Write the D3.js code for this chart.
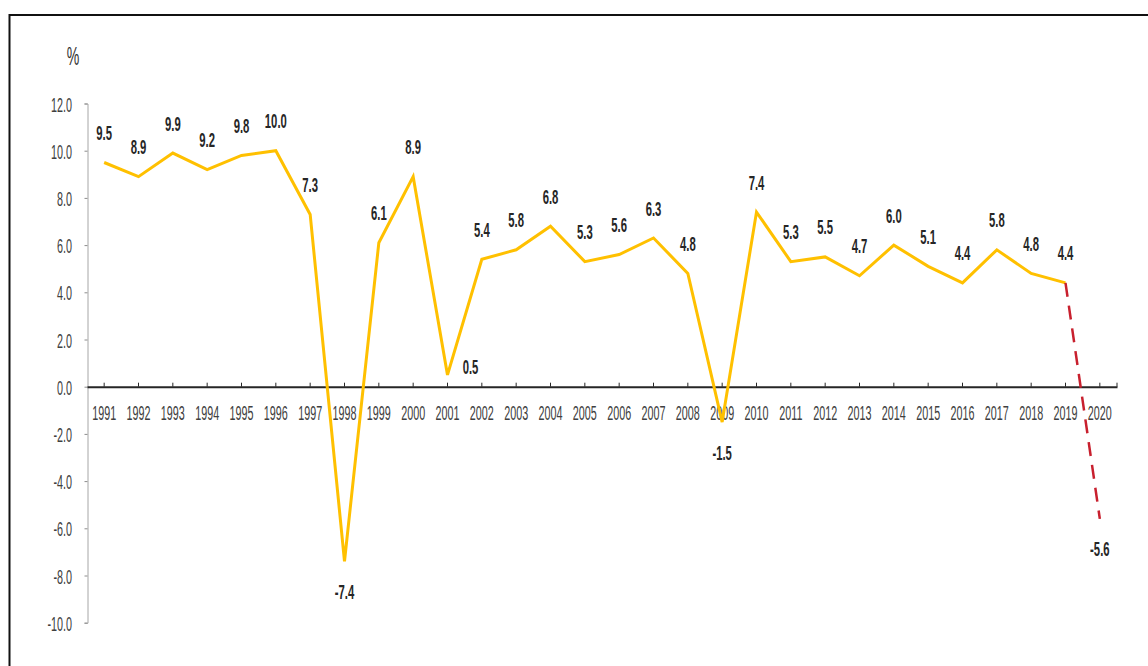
<!DOCTYPE html>
<html>
<head>
<meta charset="utf-8">
<script src="https://cdn.jsdelivr.net/npm/d3@7"></script>
<style>
  html, body { margin: 0; padding: 0; background: #fff; }
</style>
</head>
<body>
<div id="chart"></div>
<script>
// data
const years = ['1991', '1992', '1993', '1994', '1995', '1996', '1997', '1998', '1999', '2000',
  '2001', '2002', '2003', '2004', '2005', '2006', '2007', '2008', '2009', '2010',
  '2011', '2012', '2013', '2014', '2015', '2016', '2017', '2018', '2019', '2020'];
const growth = [9.5, 8.9, 9.9, 9.2, 9.8, 10.0, 7.3, -7.4, 6.1, 8.9,
  0.5, 5.4, 5.8, 6.8, 5.3, 5.6, 6.3, 4.8, -1.5, 7.4,
  5.3, 5.5, 4.7, 6.0, 5.1, 4.4, 5.8, 4.8, 4.4, -5.6];
const lastActual = '2019';
const yTicks = [-10, -8, -6, -4, -2, 0, 2, 4, 6, 8, 10, 12];
const unitLabel = '%';

const width = 1148;
const height = 666;
const FONT = "'Liberation Sans Narrow', 'Arial Narrow', 'Liberation Sans', Arial, sans-serif";

const svg = d3.select('#chart').append('svg')
  .attr('width', width)
  .attr('height', height);

// squeeze factor so the narrow text matches the picture
function measure(str, weight) {
  const t = svg.append('text')
    .attr('font-family', FONT)
    .attr('font-size', 21)
    .attr('font-weight', weight)
    .text(str);
  const w = t.node().getComputedTextLength();
  t.remove();
  return w;
}
const sx = 24 / measure('1991', 'normal');
const sxBold = 22 / measure('10.0', 'bold');

// frame
svg.append('rect')
  .attr('x', 9.5)
  .attr('y', 15)
  .attr('width', 1300)
  .attr('height', 800)
  .attr('fill', 'none')
  .attr('stroke', '#111')
  .attr('stroke-width', 2);

const x = d3.scaleBand().domain(years).range([87, 1117]);
const cx = d => x(d) + x.bandwidth() / 2;
const y = d3.scaleLinear().domain([-10, 12]).range([622.7, 103.5]);

const rows = years.map((yr, i) => ({ year: yr, value: growth[i] }));
const split = years.indexOf(lastActual);
const actual = rows.slice(0, split + 1);
const projected = rows.slice(split);

// y 轴
const gy = svg.append('g')
  .attr('transform', 'translate(87.5,0)')
  .call(d3.axisLeft(y).tickValues(yTicks).tickSize(3).tickFormat(d => d.toFixed(1)))
  .attr('font-family', FONT)
  .attr('font-size', 21);
gy.select('.domain').attr('stroke', '#a6a6a6');
gy.selectAll('.tick line').attr('stroke', '#8c8c8c');
gy.selectAll('.tick text')
  .attr('x', 0)
  .attr('dy', '0.36em')
  .attr('fill', '#404040')
  .attr('transform', `translate(-15.5,0) scale(${sx},1)`);

// unit
svg.append('text')
  .attr('transform', `translate(73,56) scale(${sx * 1.1},1)`)
  .attr('dy', '0.36em')
  .attr('text-anchor', 'middle')
  .attr('font-family', FONT)
  .attr('font-size', 25)
  .attr('fill', '#333')
  .text(unitLabel);

// x 轴
const gx = svg.append('g')
  .attr('transform', `translate(0,${y(0)})`)
  .call(d3.axisBottom(x).tickSizeInner(-4).tickSizeOuter(0))
  .attr('font-family', FONT)
  .attr('font-size', 21);
gx.select('.domain').attr('stroke', '#262626').attr('stroke-width', 2);
gx.selectAll('.tick line').attr('stroke', '#262626');
gx.selectAll('.tick text')
  .attr('y', 0)
  .attr('dy', '0.36em')
  .attr('fill', '#404040')
  .attr('transform', `translate(0,26) scale(${sx},1)`);
gx.append('line')
  .attr('x1', x.range()[1]).attr('x2', x.range()[1])
  .attr('y1', 0).attr('y2', -4)
  .attr('stroke', '#262626');

// 折线
const line = d3.line()
  .x(d => cx(d.year))
  .y(d => y(d.value));

svg.append('path')
  .datum(actual)
  .attr('d', line)
  .attr('fill', 'none')
  .attr('stroke', '#FFC000')
  .attr('stroke-width', 3);

svg.append('path')
  .datum(projected)
  .attr('d', line)
  .attr('fill', 'none')
  .attr('stroke', '#C8202E')
  .attr('stroke-width', 2.5)
  .attr('stroke-dasharray', '14,9');

// 数据标签
function labelPos(d) {
  if (d.value < 0) return [0, 30];
  if (d.value < 1) return [23, -8];
  return [0, -30];
}

svg.append('g')
  .selectAll('text')
  .data(rows)
  .join('text')
  .attr('transform', d => {
    const [dx, dy] = labelPos(d);
    return `translate(${cx(d.year) + dx},${y(d.value) + dy}) scale(${sxBold},1)`;
  })
  .attr('dy', '0.36em')
  .attr('text-anchor', 'middle')
  .attr('font-family', FONT)
  .attr('font-size', 21)
  .attr('font-weight', 'bold')
  .attr('fill', '#262626')
  .text(d => d.value.toFixed(1));
</script>
</body>
</html>
